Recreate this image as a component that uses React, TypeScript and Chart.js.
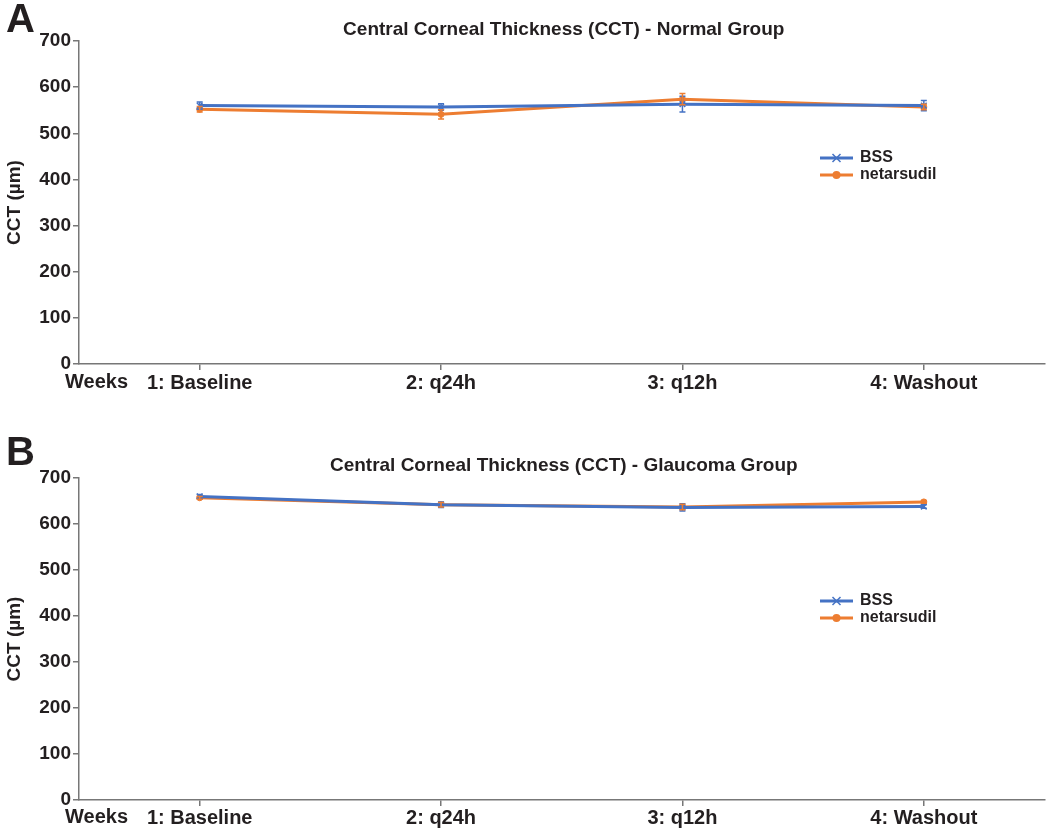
import React, { useEffect, useRef } from "react";
import { Chart, registerables } from "chart.js";
Chart.register(...registerables);

const weekLabels = ["1: Baseline", "2: q24h", "3: q12h", "4: Washout"];
const seriesNames = ["BSS", "netarsudil"];

const normalBss = [560, 557, 563, 560];
const normalBssErr = [8, 7, 17, 11];
const normalNet = [552, 541, 574, 557];
const normalNetErr = [6, 10, 12, 6];

const glaucomaBss = [660, 642, 636, 638];
const glaucomaBssErr = [4, 6, 8, 4];
const glaucomaNet = [657, 642, 637, 648];
const glaucomaNetErr = [3, 5, 6, 3];

const BLUE = "#4472C4";
const ORANGE = "#ED7D31";
const TEXT = "#231f20";
const AXIS = "#777777";
const FONT = "'Liberation Sans', Arial, sans-serif";

type PanelProps = {
  letter: string;
  title: string;
  bss: number[];
  bssErr: number[];
  net: number[];
  netErr: number[];
  height: number;
  chartTop: number;
  chartBottom: number;
  titleY: number;
  letterY: number;
  legendY: number;
  tickPad: number;
};

function Panel(p: PanelProps) {
  const ref = useRef<HTMLCanvasElement | null>(null);
  useEffect(() => {
    if (!ref.current) return;
    const errs = [p.bssErr, p.netErr];
    const colors = [BLUE, ORANGE];
    const plugin = {
      id: "decor",
      afterDatasetsDraw(chart: any) {
        const ctx = chart.ctx;
        const ys = chart.scales.y;
        ctx.save();
        chart.data.datasets.forEach((ds: any, i: number) => {
          const meta = chart.getDatasetMeta(i);
          ctx.strokeStyle = colors[i];
          ctx.lineWidth = 1.5;
          meta.data.forEach((pt: any, j: number) => {
            const v = ds.data[j];
            const e = errs[i][j];
            const y1 = ys.getPixelForValue(v + e);
            const y2 = ys.getPixelForValue(v - e);
            ctx.beginPath();
            ctx.moveTo(pt.x, y1);
            ctx.lineTo(pt.x, y2);
            ctx.moveTo(pt.x - 3, y1);
            ctx.lineTo(pt.x + 3, y1);
            ctx.moveTo(pt.x - 3, y2);
            ctx.lineTo(pt.x + 3, y2);
            ctx.stroke();
          });
        });
        ctx.restore();
      },
      afterDraw(chart: any) {
        const ctx = chart.ctx;
        const ca = chart.chartArea;
        ctx.save();
        ctx.fillStyle = TEXT;
        // panel letter
        ctx.font = `bold 40px ${FONT}`;
        ctx.textAlign = "left";
        ctx.textBaseline = "alphabetic";
        ctx.fillText(p.letter, 6, p.letterY);
        ctx.textBaseline = "middle";
        // title
        ctx.font = `bold 19px ${FONT}`;
        ctx.textAlign = "center";
        ctx.fillText(p.title, (ca.left + ca.right) / 2 + 2, p.titleY);
        // y title
        ctx.save();
        ctx.translate(15, (ca.top + ca.bottom) / 2);
        ctx.rotate(-Math.PI / 2);
        ctx.font = `bold 19px ${FONT}`;
        ctx.fillText("CCT (\u00b5m)", 0, 0);
        ctx.restore();
        // Weeks
        ctx.font = `bold 20px ${FONT}`;
        ctx.textAlign = "left";
        ctx.fillText("Weeks", 65, ca.bottom + 17 + p.tickPad);
        // legend
        const lx1 = 820, lx2 = 853;
        seriesNames.forEach((name, i) => {
          const y = p.legendY + i * 17;
          ctx.strokeStyle = colors[i];
          ctx.lineWidth = 3;
          ctx.beginPath();
          ctx.moveTo(lx1, y);
          ctx.lineTo(lx2, y);
          ctx.stroke();
          const cx = (lx1 + lx2) / 2;
          if (i === 0) {
            ctx.lineWidth = 1.5;
            ctx.beginPath();
            ctx.moveTo(cx - 4, y - 4);
            ctx.lineTo(cx + 4, y + 4);
            ctx.moveTo(cx - 4, y + 4);
            ctx.lineTo(cx + 4, y - 4);
            ctx.stroke();
          } else {
            ctx.fillStyle = colors[i];
            ctx.beginPath();
            ctx.arc(cx, y, 4, 0, Math.PI * 2);
            ctx.fill();
          }
          ctx.fillStyle = TEXT;
          ctx.font = `bold 16px ${FONT}`;
          ctx.textAlign = "left";
          ctx.fillText(name, 860, y);
        });
        ctx.restore();
      },
    };

    const chart = new Chart(ref.current, {
      type: "line",
      data: {
        labels: weekLabels,
        datasets: [
          {
            label: seriesNames[0],
            data: p.bss,
            borderColor: BLUE,
            backgroundColor: BLUE,
            borderWidth: 3,
            pointStyle: "crossRot",
            pointRadius: 4,
            pointBorderWidth: 1.5,
            tension: 0,
          },
          {
            label: seriesNames[1],
            data: p.net,
            borderColor: ORANGE,
            backgroundColor: ORANGE,
            borderWidth: 3,
            pointStyle: "circle",
            pointRadius: 3,
            pointBorderWidth: 1,
            tension: 0,
          },
        ],
      },
      options: {
        responsive: false,
        animation: false,
        devicePixelRatio: 1,
        layout: { padding: { top: p.chartTop, left: 0, right: 5, bottom: 0 } },
        plugins: {
          legend: { display: false },
          title: { display: false },
          tooltip: { enabled: false },
        },
        scales: {
          x: {
            type: "category",
            offset: true,
            grid: {
              offset: false,
              drawOnChartArea: false,
              drawTicks: true,
              tickLength: 6,
              color: AXIS,
              lineWidth: 1.5,
            },
            border: { display: true, color: AXIS, width: 1.5 },
            ticks: {
              color: TEXT,
              font: { family: FONT, size: 20, weight: "bold" },
              padding: p.tickPad,
              maxRotation: 0,
              autoSkip: false,
            },
            afterFit(scale: any) {
              scale.height = p.height - p.chartBottom;
            },
          },
          y: {
            min: 0,
            max: 700,
            grid: {
              drawOnChartArea: false,
              drawTicks: true,
              tickLength: 6,
              color: AXIS,
              lineWidth: 1.5,
            },
            border: { display: true, color: AXIS, width: 1.5 },
            ticks: {
              stepSize: 100,
              color: TEXT,
              font: { family: FONT, size: 19, weight: "bold" },
              padding: 2,
            },
            afterFit(scale: any) {
              scale.width = 79;
            },
          },
        },
      },
      plugins: [plugin],
    } as any);
    return () => chart.destroy();
  }, []);
  return (
    <canvas
      ref={ref}
      width={1050}
      height={p.height}
      style={{ display: "block", width: 1050, height: p.height }}
    />
  );
}

export default function App() {
  return (
    <div style={{ position: "absolute", left: 0, top: 0, width: 1050, height: 830, background: "#fff" }}>
      <Panel
        letter="A"
        title="Central Corneal Thickness (CCT) - Normal Group"
        bss={normalBss}
        bssErr={normalBssErr}
        net={normalNet}
        netErr={normalNetErr}
        height={415}
        chartTop={41}
        chartBottom={364}
        titleY={30}
        letterY={32}
        legendY={158}
        tickPad={1}
      />
      <Panel
        letter="B"
        title="Central Corneal Thickness (CCT) - Glaucoma Group"
        bss={glaucomaBss}
        bssErr={glaucomaBssErr}
        net={glaucomaNet}
        netErr={glaucomaNetErr}
        height={415}
        chartTop={63}
        chartBottom={385}
        titleY={51}
        letterY={50}
        legendY={186}
        tickPad={0}
      />
    </div>
  );
}
